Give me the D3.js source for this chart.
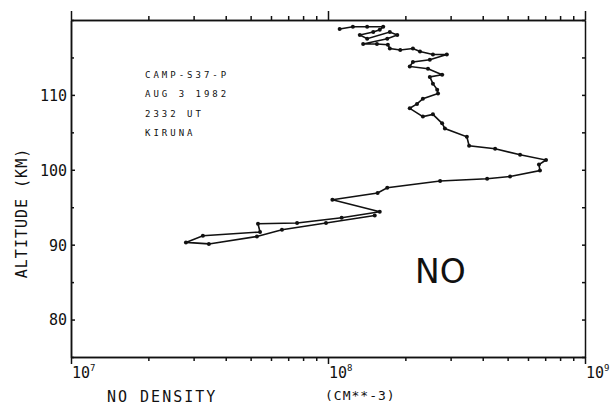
<!doctype html>
<html lang=en>
<head>
<meta charset=utf-8>
<title>NO density profile</title>
<script src="https://d3js.org/d3.v7.min.js"></script>
<style>
  body { margin: 0; background: #fff; }
  .axis path, .axis line { stroke: #111; stroke-width: 1.5; }
  .lbl { font-family: "DejaVu Sans Mono", monospace; fill: #111; }
</style>
</head>
<body>
<div id="container"></div>
<script>
    // NO density profile (cm^-3 vs km)
    var density = [1.11e8, 1.25e8, 1.42e8, 1.64e8, 1.59e8, 1.50e8, 1.33e8, 1.42e8, 1.74e8, 1.86e8,
                   1.70e8, 1.37e8, 1.55e8, 1.71e8, 1.74e8, 1.91e8, 2.14e8, 2.28e8, 2.56e8, 2.90e8,
                   2.49e8, 2.14e8, 2.08e8, 2.45e8, 2.78e8, 2.49e8, 2.56e8, 2.66e8, 2.68e8, 2.34e8,
                   2.22e8, 2.08e8, 2.34e8, 2.56e8, 2.78e8, 2.85e8, 3.47e8, 3.54e8, 4.47e8, 5.59e8,
                   7.05e8, 6.62e8, 6.68e8, 5.11e8, 4.16e8, 2.73e8, 1.70e8, 1.56e8, 1.04e8, 1.59e8,
                   1.13e8, 7.58e7, 5.34e7, 5.44e7, 3.26e7, 2.80e7, 3.44e7, 5.29e7, 6.62e7, 9.82e7,
                   1.52e8];
    var altitude = [118.8, 119.1, 119.1, 119.1, 118.7, 118.4, 118.0, 117.5, 118.4, 118.0,
                    117.5, 116.8, 116.8, 116.7, 116.2, 116.0, 116.2, 115.8, 115.4, 115.4,
                    114.7, 114.4, 113.8, 113.5, 112.7, 112.4, 111.5, 110.7, 110.2, 109.5,
                    108.8, 108.2, 107.1, 107.4, 106.2, 105.5, 104.4, 103.2, 102.8, 102.0,
                    101.3, 100.7, 99.9, 99.1, 98.8, 98.5, 97.6, 96.9, 96.0, 94.4,
                    93.6, 92.9, 92.8, 91.7, 91.2, 90.3, 90.1, 91.1, 92.0, 92.9,
                    93.9];

    var yTicks = [80, 90, 100, 110];
    var yMinor = [75, 85, 95, 105, 115, 120];
    var xExps = [7, 8, 9];
    var info = ["CAMP-S37-P", "AUG 3 1982", "2332 UT", "KIRUNA"];

    var w = 610, h = 407;
    var m = {left: 71, right: 25, top: 20, bottom: 50};

    var svg = d3.select("div#container").append("svg")
        .attr("width", w).attr("height", h);

    var x = d3.scaleLog().domain([1e7, 1e9]).range([m.left, w - m.right]);
    var y = d3.scaleLinear().domain([75, 120]).range([h - m.bottom, m.top]);

    var majorX = xExps.map(function(e) { return Math.pow(10, e); });
    var minorX = x.ticks().filter(function(v) { return majorX.indexOf(v) < 0; });

// bottom axis, ticks outward
    svg.append("g").attr("class", "axis").attr("transform", "translate(0," + y(75) + ")")
        .call(d3.axisBottom(x).tickValues(minorX).tickSize(4).tickSizeOuter(0).tickFormat(""));
    svg.append("g").attr("class", "axis").attr("transform", "translate(0," + y(75) + ")")
        .call(d3.axisBottom(x).tickValues(majorX).tickSize(7).tickSizeOuter(0).tickFormat(""));
// top axis, ticks outward
    svg.append("g").attr("class", "axis").attr("transform", "translate(0," + y(120) + ")")
        .call(d3.axisTop(x).tickValues(minorX).tickSize(4).tickSizeOuter(0).tickFormat(""));
    svg.append("g").attr("class", "axis").attr("transform", "translate(0," + y(120) + ")")
        .call(d3.axisTop(x).tickValues(majorX).tickSize(9).tickSizeOuter(0).tickFormat(""));
// left axis, ticks inward
    svg.append("g").attr("class", "axis").attr("transform", "translate(" + x(1e7) + ",0)")
        .call(d3.axisLeft(y).tickValues(yMinor).tickSize(-3).tickSizeOuter(0).tickFormat(""));
    var gl = svg.append("g").attr("class", "axis").attr("transform", "translate(" + x(1e7) + ",0)")
        .call(d3.axisLeft(y).tickValues(yTicks).tickSize(-4).tickSizeOuter(0).tickPadding(4));
    gl.selectAll("text").attr("class", "lbl").style("font-size", "15px").attr("dy", "0.36em");
// right axis, ticks inward
    svg.append("g").attr("class", "axis").attr("transform", "translate(" + x(1e9) + ",0)")
        .call(d3.axisRight(y).tickValues(yTicks.concat(yMinor)).tickSize(-3).tickSizeOuter(0).tickFormat(""));

// x tick labels 10^n
    var xl = svg.selectAll("text.xl")
        .data(xExps)
        .enter()
        .append("text")
        .attr("class", "lbl xl")
        .attr("x", function(d) { return x(Math.pow(10, d)) + 1; })
        .attr("y", y(75) + 21)
        .style("font-size", "15px");
    xl.append("tspan").text("10");
    xl.append("tspan").attr("dy", -7).style("font-size", "9px").text(function(d) { return d; });

// axis titles
    svg.append("text").attr("class", "lbl")
        .attr("transform", "translate(27," + 213 + ") rotate(-90)")
        .attr("text-anchor", "middle")
        .style("font-size", "15px").style("letter-spacing", "1px")
        .text("ALTITUDE  (KM)");
    svg.append("text").attr("class", "lbl")
        .attr("x", 107).attr("y", 402)
        .style("font-size", "15px").style("letter-spacing", "2px")
        .text("NO DENSITY");
    svg.append("text").attr("class", "lbl")
        .attr("x", 325).attr("y", 400)
        .style("font-size", "13px").style("letter-spacing", "1px")
        .text("(CM**-3)");

// annotation block
    svg.selectAll("text.info")
        .data(info)
        .enter()
        .append("text")
        .attr("class", "lbl info")
        .attr("x", 145)
        .attr("y", function(d, i) { return 78 + i * 19.3; })
        .style("font-size", "9px").style("letter-spacing", "3px")
        .text(function(d) { return d; });

    svg.append("text")
        .attr("x", 415).attr("y", 283)
        .style("font-family", "DejaVu Sans, sans-serif")
        .style("font-size", "33px")
        .attr("fill", "#111")
        .text("NO");

// profile
    var pts = density.map(function(d, i) { return [d, altitude[i]]; });
    var line = d3.line()
        .x(function(d) { return x(d[0]); })
        .y(function(d) { return y(d[1]); });

    svg.append("path")
        .datum(pts)
        .attr("d", line)
        .attr("fill", "none")
        .attr("stroke", "#111")
        .attr("stroke-width", 1.6);

    svg.selectAll("circle")
        .data(pts)
        .enter()
        .append("circle")
        .attr("cx", function(d) { return x(d[0]); })
        .attr("cy", function(d) { return y(d[1]); })
        .attr("r", 2)
        .attr("fill", "#111");
</script>
</body>
</html>
